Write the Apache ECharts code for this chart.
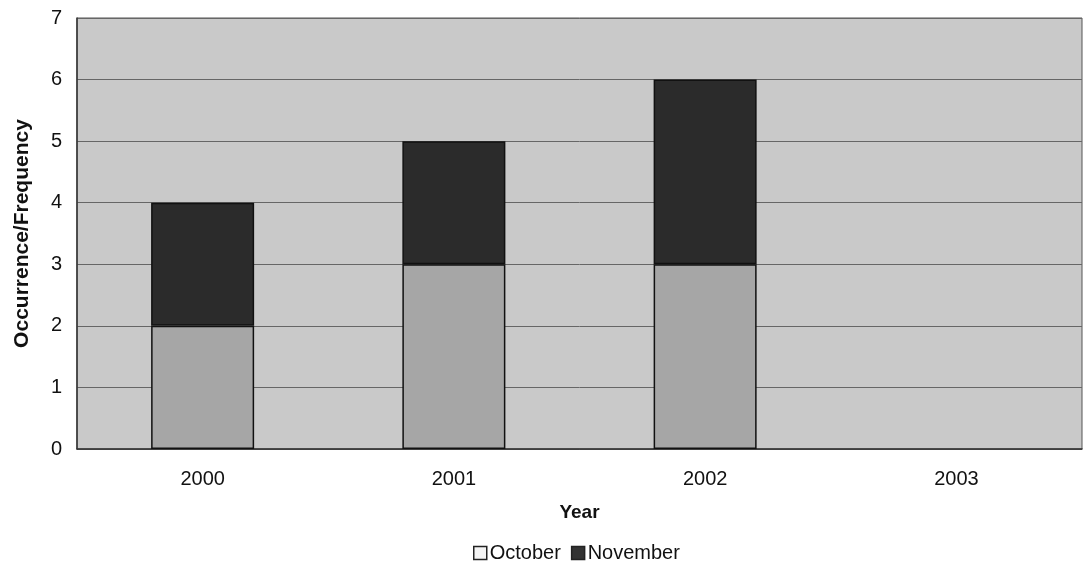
<!DOCTYPE html>
<html>
<head>
<meta charset="utf-8">
<script src="https://cdn.jsdelivr.net/npm/echarts@6/dist/echarts.min.js"></script>
<style>
  html, body { margin: 0; padding: 0; background: #fff; }
  #chart { width: 1084px; height: 565px; }
</style>
</head>
<body>
<div id="chart"></div>
<script>
const years = ['2000', '2001', '2002', '2003']
const october = [2, 3, 3, 0]
const november = [2, 2, 3, 0]

// zero-height bars would otherwise leave a border stroke on the axis
const toBars = arr => arr.map(v => v === 0 ? { value: v, itemStyle: { borderWidth: 0 } } : v)

const chart = echarts.init(document.getElementById('chart'))

const option = {
  animation: false,
  textStyle: { fontFamily: 'Liberation Sans, Arial, sans-serif' },
  grid: {
    left: 77,
    right: 2,
    top: 18,
    bottom: 116,
    outerBoundsMode: 'none',
    show: true,
    backgroundColor: '#c9c9c9',
    borderColor: '#555',
    borderWidth: 1
  },
  legend: {
    top: 538,
    left: 468,
    itemWidth: 13,
    itemHeight: 13,
    itemGap: 10,
    icon: 'rect',
    textStyle: { color: '#111', fontSize: 20, padding: [0, 0, 0, -2] },
    data: [
      { name: 'October', itemStyle: { color: '#f4f4f4', borderColor: '#222', borderWidth: 1.5 } },
      { name: 'November', itemStyle: { color: '#333', borderColor: '#222', borderWidth: 1.5 } }
    ]
  },
  xAxis: {
    type: 'category',
    data: years,
    name: 'Year',
    nameLocation: 'middle',
    nameGap: 54,
    nameTextStyle: { fontWeight: 'bold', fontSize: 19, color: '#111' },
    axisLine: { lineStyle: { color: '#333', width: 1.5 } },
    axisTick: { show: false },
    axisLabel: { color: '#111', fontSize: 20, margin: 20 }
  },
  yAxis: {
    type: 'value',
    min: 0,
    max: 7,
    interval: 1,
    name: 'Occurrence/Frequency',
    nameLocation: 'middle',
    nameGap: 44,
    nameTextStyle: { fontWeight: 'bold', fontSize: 21, color: '#111' },
    axisLine: { show: true, lineStyle: { color: '#333', width: 1.5 } },
    axisTick: { show: false },
    axisLabel: { color: '#111', fontSize: 20, margin: 15 },
    splitLine: { lineStyle: { color: '#666', width: 1 } }
  },
  series: [
    {
      name: 'October',
      type: 'bar',
      stack: 'total',
      barWidth: '41%',
      data: toBars(october),
      itemStyle: { color: '#a6a6a6', borderColor: '#111', borderWidth: 1.5 }
    },
    {
      name: 'November',
      type: 'bar',
      stack: 'total',
      barWidth: '41%',
      data: toBars(november),
      itemStyle: { color: '#2b2b2b', borderColor: '#111', borderWidth: 1.5 }
    }
  ]
}

chart.setOption(option)
</script>
</body>
</html>
